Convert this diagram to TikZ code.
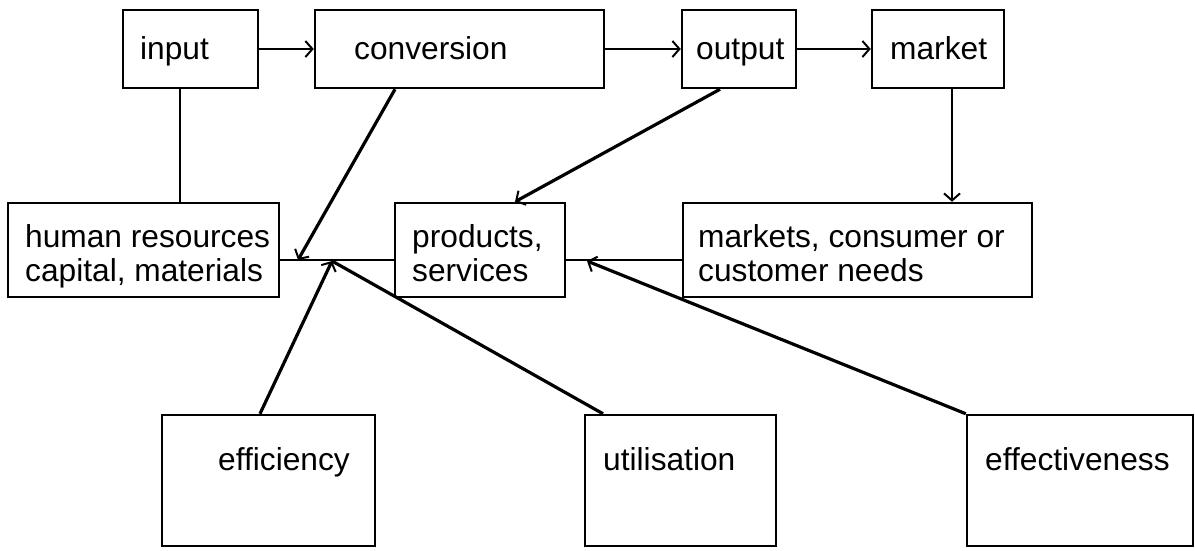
\documentclass[tikz,border=0pt]{standalone}
\usepackage{fontspec}
\setmainfont{Liberation Sans}
\usetikzlibrary{arrows.meta,fit}
\begin{document}
\begin{tikzpicture}[x=1pt,y=-1pt,
  box/.style={draw, line width=2.5pt, inner sep=0pt},
  txt/.style={anchor=base west, inner sep=0pt, font=\fontsize{31.7}{34}\selectfont},
  ln/.style={line width=2pt},
  dg/.style={line width=3.2pt},
  arr/.style={-{Straight Barb[length=7pt,width=16pt,line width=2pt]}}]
\useasboundingbox (0,0) rectangle (1195,550);
% row 1
\node[box, fit={(123,10) (258,88)}] (input) {};
\node[box, fit={(315,10) (604,88)}] (conv) {};
\node[box, fit={(682,10) (796,88)}] (output) {};
\node[box, fit={(872,10) (1004,88)}] (market) {};
\node[txt] (tinput) at (140,59) {input};
\node[txt] (tconv) at (354,59) {conversion};
\node[txt] (toutput) at (696,59) {output};
\node[txt] (tmarket) at (890,59) {market};
% row 2
\node[box, fit={(8,203) (279,297)}] (human) {};
\node[box, fit={(395,203) (565,297)}] (prod) {};
\node[box, fit={(683,203) (1032,297)}] (markets) {};
\node[txt] (thumana) at (25,247) {human resources};
\node[txt] (thumanb) at (25,281) {capital, materials};
\node[txt] (tproda) at (412,247) {products,};
\node[txt] (tprodb) at (412,281) {services};
\node[txt] (tmarketsa) at (698,247) {markets, consumer or};
\node[txt] (tmarketsb) at (698,281) {customer needs};
% row 3
\node[box, fit={(162,415) (375,546)}] (eff) {};
\node[box, fit={(585,415) (776,546)}] (util) {};
\node[box, fit={(967,415) (1193,546)}] (effv) {};
\node[txt] (teff) at (218,470) {efficiency};
\node[txt] (tutil) at (603,470) {utilisation};
\node[txt] (teffv) at (985,470) {effectiveness};
% helper coordinates
\coordinate (xa) at (180,0);
\coordinate (xb) at (952,0);
\coordinate (xc) at (395,0);
\coordinate (xd) at (720,0);
\coordinate (xe) at (515,0);
\coordinate (xf) at (260,0);
\coordinate (xg) at (603,0);
\coordinate (hl) at (0,260);
\coordinate (t1) at (298,260);
\coordinate (t2) at (332,261);
\coordinate (t3) at (587,261);
% connectors
\draw[ln, arr] (input.east) -- (conv.west);
\draw[ln, arr] (conv.east) -- (output.west);
\draw[ln, arr] (output.east) -- (market.west);
\draw[ln] (input.south -| xa) -- (human.north -| xa);
\draw[ln, arr] (market.south -| xb) -- (markets.north -| xb);
\draw[ln] (human.east |- hl) -- (prod.west |- hl);
\draw[ln] (prod.east |- hl) -- (markets.west |- hl);
\draw[dg, arr] (conv.south -| xc) -- (t1);
\draw[dg, arr] (output.south -| xd) -- (prod.north -| xe);
\draw[dg, arr] (eff.north -| xf) -- (t2);
\draw[dg] (util.north -| xg) -- (t2);
\draw[dg, arr] (effv.north west) -- (t3);
\end{tikzpicture}
\end{document}
